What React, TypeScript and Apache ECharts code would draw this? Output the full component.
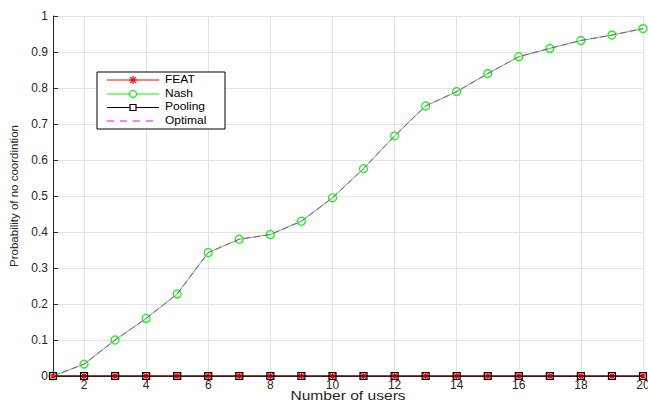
import React, { useEffect, useRef } from "react";
import * as echarts from "echarts";

const users = [1, 2, 3, 4, 5, 6, 7, 8, 9, 10, 11, 12, 13, 14, 15, 16, 17, 18, 19, 20];
const nash = [0, 0.033, 0.1, 0.16, 0.228, 0.343, 0.38, 0.393, 0.43, 0.495, 0.576, 0.667, 0.75, 0.79, 0.84, 0.887, 0.91, 0.932, 0.947, 0.965];
const optimal = [0, 0.033, 0.1, 0.16, 0.228, 0.343, 0.38, 0.393, 0.43, 0.495, 0.576, 0.667, 0.75, 0.79, 0.84, 0.887, 0.91, 0.932, 0.947, 0.965];
const feat = [0, 0, 0, 0, 0, 0, 0, 0, 0, 0, 0, 0, 0, 0, 0, 0, 0, 0, 0, 0];
const pooling = [0, 0, 0, 0, 0, 0, 0, 0, 0, 0, 0, 0, 0, 0, 0, 0, 0, 0, 0, 0];
const xGridTicks = [2, 4, 6, 8, 10, 12, 14, 16, 18, 20];
const legendNames = ["FEAT", "Nash", "Pooling", "Optimal"];
const xName = "Number of users";
const yName = "Probability of no coordintion";

const FONT = "Liberation Sans, Arial, sans-serif";
const asterisk = "path://M5,0 L5,10 M0,5 L10,5 M1.5,1.5 L8.5,8.5 M1.5,8.5 L8.5,1.5";

function legendGraphic() {
  const bx = 97, by = 72, bw = 128, bh = 57;
  const x1 = 107, x2 = 159, mx = 133, tx = 165;
  const rows = [80, 94, 107.5, 121];
  const colors = ["#ff0000", "#00ff00", "#000000", "#ff00ff"];
  const els: any[] = [
    { type: "rect", z: 100, shape: { x: bx, y: by, width: bw, height: bh }, style: { fill: "#ffffff", stroke: "#000000", lineWidth: 1 } },
  ];
  rows.forEach((y, i) => {
    const st: any = { stroke: colors[i], lineWidth: 1 };
    if (i === 3) st.lineDash = [7, 6];
    els.push({ type: "polyline", z: 101, shape: { points: [[x1, y], [x2, y]] }, style: st });
    els.push({
      type: "text",
      z: 101,
      x: tx,
      y: y - 6,
      scaleX: 1.2,
      style: { text: legendNames[i], fill: "#000000", fontSize: 10, fontFamily: FONT },
    });
  });
  const ay = rows[0];
  const r = 4;
  const d = 2.8;
  const ast = [
    [[mx, ay - r], [mx, ay + r]],
    [[mx - r, ay], [mx + r, ay]],
    [[mx - d, ay - d], [mx + d, ay + d]],
    [[mx - d, ay + d], [mx + d, ay - d]],
  ];
  ast.forEach((p) => els.push({ type: "polyline", z: 102, shape: { points: p }, style: { stroke: "#ff0000", lineWidth: 1.2 } }));
  els.push({ type: "circle", z: 102, shape: { cx: mx, cy: rows[1], r: 3.5 }, style: { fill: "#ffffff", stroke: "#00ff00", lineWidth: 1.2 } });
  els.push({ type: "rect", z: 102, shape: { x: mx - 3, y: rows[2] - 3, width: 6, height: 6 }, style: { fill: "#ffffff", stroke: "#000000", lineWidth: 1.2 } });
  els.push({
    type: "text",
    z: 50,
    x: 348,
    y: 396,
    scaleX: 1.3,
    style: { text: xName, fill: "#262626", fontSize: 12, fontFamily: FONT, align: "center", verticalAlign: "middle" },
  });
  return els;
}

export default function App() {
  const ref = useRef<HTMLDivElement>(null);
  useEffect(() => {
    const chart = echarts.init(ref.current!, undefined, { renderer: "svg" });
    const pair = (arr: number[]) => users.map((u, i) => [u, arr[i]]);
    chart.setOption({
      animation: false,
      backgroundColor: "#ffffff",
      textStyle: { fontFamily: FONT },
      grid: { left: 53, right: 5, top: 16, bottom: 27, outerBoundsMode: "none", containLabel: false },
      xAxis: {
        type: "value",
        min: 1,
        max: 20,
        interval: 1,
        axisLine: { show: true, lineStyle: { color: "#262626" } },
        axisTick: { show: false },
        axisLabel: {
          fontSize: 12,
          color: "#262626",
          margin: 3,
          fontFamily: FONT,
          formatter: (v: number) => (xGridTicks.includes(v) ? String(v) : ""),
        },
        splitLine: { show: false },
      },
      yAxis: {
        type: "value",
        min: 0,
        max: 1,
        interval: 0.1,
        name: yName,
        nameLocation: "middle",
        nameGap: 33,
        nameTextStyle: { fontSize: 11.5, color: "#262626", fontFamily: FONT },
        axisLine: { show: true, lineStyle: { color: "#262626" } },
        axisTick: { show: true, inside: true, length: 5, lineStyle: { color: "#262626" } },
        axisLabel: {
          fontSize: 12,
          color: "#262626",
          margin: 5,
          fontFamily: FONT,
          formatter: (v: number) => String(Math.round(v * 10) / 10),
        },
        splitLine: { show: true, lineStyle: { color: "#e3e3e3", width: 1 } },
      },
      legend: { show: false },
      graphic: legendGraphic(),
      series: [
        {
          name: "FEAT",
          type: "line",
          data: pair(feat),
          symbol: asterisk,
          symbolSize: 8,
          lineStyle: { color: "#ff0000", width: 1 },
          itemStyle: { color: "#ff0000", borderColor: "#ff0000", borderWidth: 1.2 },
          markLine: {
            silent: true,
            symbol: "none",
            label: { show: false },
            lineStyle: { color: "#e3e3e3", type: "solid", width: 1 },
            data: xGridTicks.map((t) => ({ xAxis: t })),
            z: 0,
          },
          z: 3,
        },
        {
          name: "Nash",
          type: "line",
          data: pair(nash),
          symbol: "circle",
          symbolSize: 8,
          lineStyle: { color: "#00ff00", width: 1 },
          itemStyle: { color: "transparent", borderColor: "#00ff00", borderWidth: 1.2 },
          z: 4,
        },
        {
          name: "Pooling",
          type: "line",
          data: pair(pooling),
          symbol: "rect",
          symbolSize: 7,
          lineStyle: { color: "#000000", width: 1 },
          itemStyle: { color: "transparent", borderColor: "#000000", borderWidth: 1.2 },
          z: 5,
        },
        {
          name: "Optimal",
          type: "line",
          data: pair(optimal),
          symbol: "none",
          lineStyle: { color: "#ff00ff", width: 1, type: [6, 4] },
          itemStyle: { color: "#ff00ff" },
          z: 6,
        },
      ],
    });
    return () => chart.dispose();
  }, []);
  return <div ref={ref} style={{ width: 648, height: 403, position: "absolute", left: 0, top: 0 }} />;
}
